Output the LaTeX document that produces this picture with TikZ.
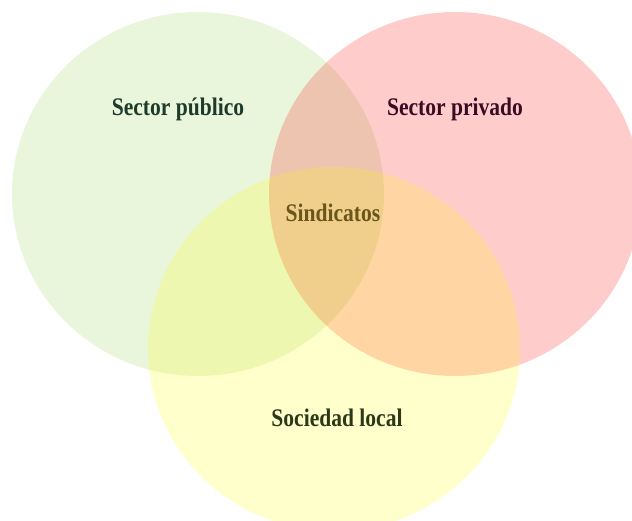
\documentclass[tikz,border=0pt]{standalone}
\usepackage{fontspec}
\usepackage{graphicx}
\setmainfont{Liberation Serif}
\usetikzlibrary{positioning}

% Taller, narrower label text
\newcommand{\tallLabel}[1]{\scalebox{0.98}[1.15]{#1}}

\begin{document}
\begin{tikzpicture}[x=1pt, y=-1pt, font=\fontsize{22}{24}\selectfont\bfseries]
    % Define circle radii
    \def\radX{186}
    \def\radY{182}

    \definecolor{publicColour}{RGB}{146,208,80}
    \definecolor{privateColour}{RGB}{255,0,0}
    \definecolor{localColour}{RGB}{255,255,0}

    \definecolor{publicText}{HTML}{1F3A2A}
    \definecolor{privateText}{HTML}{3A0C24}
    \definecolor{unionText}{HTML}{6A561C}
    \definecolor{localText}{HTML}{2C3818}

    % Fix page size
    \useasboundingbox (0,0) rectangle (632,520);
    \clip (0,0) rectangle (632,520);

    % Define the circle centres
    \coordinate (publicCenter) at (198,194);
    \coordinate (privateCenter) at (455,194);
    \coordinate (localCenter) at (334,349);

    % Draw the three circles with 20% opacity
    \fill[publicColour, fill opacity=0.2] (publicCenter) ellipse ({\radX} and {\radY});
    \fill[privateColour, fill opacity=0.2] (privateCenter) ellipse ({\radX} and {\radY});
    \fill[localColour, fill opacity=0.2] (localCenter) ellipse ({\radX} and {\radY});

    % Label the circles
    \node[text=publicText] (public) at (178,109) {\tallLabel{Sector público}};
    \node[text=privateText] (private) at (455,109) {\tallLabel{Sector privado}};
    \node[text=unionText] (unions) at (333,213) {\tallLabel{Sindicatos}};
    \node[text=localText] (local) at (337,418) {\tallLabel{Sociedad local}};

\end{tikzpicture}
\end{document}
